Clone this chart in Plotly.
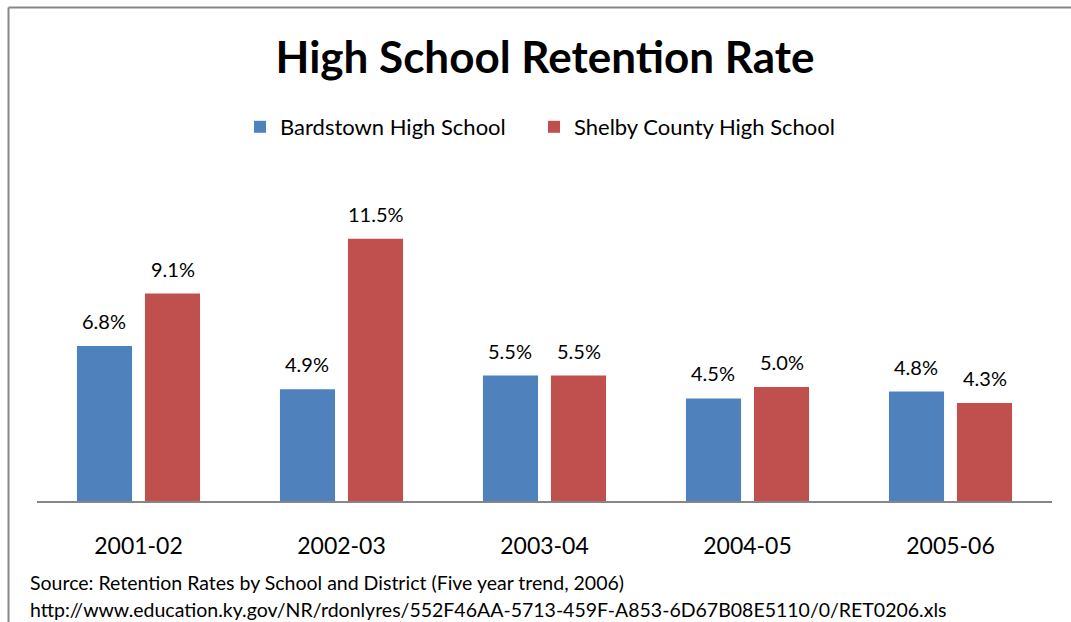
import plotly.graph_objects as go

categories = ["2001-02", "2002-03", "2003-04", "2004-05", "2005-06"]
bardstown = [6.8, 4.9, 5.5, 4.5, 4.8]
shelby = [9.1, 11.5, 5.5, 5.0, 4.3]
series_names = ["Bardstown High School", "Shelby County High School"]
colors = ["#4F81BD", "#C0504D"]
title_text = "High School Retention Rate"
source_lines = [
    "Source: Retention Rates by School and District (Five year trend, 2006)",
    "http://www.education.ky.gov/NR/rdonlyres/552F46AA-5713-459F-A853-6D67B08E5110/0/RET0206.xls",
]

W, H = 1071, 622
ML, MR, MT, MB = 37, 19, 190, 121
FONT = "Lato, Carlito, Calibri, sans-serif"
legend_names = ["legend", "legend2"]
legend_symbol_px = [262, 556]

fig = go.Figure()
for name, vals, col, lg in zip(series_names, [bardstown, shelby], colors, legend_names):
    fig.add_trace(go.Bar(x=categories, y=vals, name=name, marker_color=col,
                         marker_line_width=0, hoverinfo="skip", legend=lg))

ph = H - MT - MB
pw = W - ML - MR
ymax = ph / 22.8
slot_px = pw / len(categories) * (1 - 0.33) / 2

annotations = []
for i, vals in enumerate([bardstown, shelby]):
    shift = (-0.5 if i == 0 else 0.5) * slot_px
    for c, v in zip(categories, vals):
        annotations.append(dict(x=c, y=v, xref="x", yref="y", text=f"{v:.1f}%",
                                showarrow=False, xshift=shift, yanchor="bottom", yshift=11,
                                font=dict(family=FONT, size=20, color="#000")))

def px_to_paper_y(py):
    return 1 + (MT - py) / ph

for line, py in zip(source_lines, [582, 609]):
    annotations.append(dict(x=(28 - ML) / pw, y=px_to_paper_y(py), xref="paper", yref="paper",
                            text=line, showarrow=False, xanchor="left", yanchor="middle",
                            font=dict(family=FONT, size=19.5, color="#000")))

shapes = [
    dict(type="line", xref="paper", yref="paper", x0=(8.5 - ML) / pw, x1=(W + 5 - ML) / pw,
         y0=px_to_paper_y(7.5), y1=px_to_paper_y(7.5), line=dict(color="#878787", width=2)),
    dict(type="line", xref="paper", yref="paper", x0=(8.5 - ML) / pw, x1=(8.5 - ML) / pw,
         y0=px_to_paper_y(7.5), y1=px_to_paper_y(H + 5), line=dict(color="#878787", width=2)),
]

legend_common = dict(orientation="h", xanchor="left", yanchor="middle", xref="paper",
                     y=px_to_paper_y(127), font=dict(family=FONT, size=22, color="#000"),
                     bgcolor="rgba(0,0,0,0)")

fig.update_layout(
    width=W, height=H, autosize=False,
    margin=dict(l=ML, r=MR, t=MT, b=MB, pad=0),
    paper_bgcolor="white", plot_bgcolor="white",
    barmode="group", bargap=0.33, bargroupgap=0.19,
    title=dict(text="<b>" + title_text + "</b>", x=(545 - ML) / pw, xanchor="center", xref="paper",
               y=1 - 58 / H, yanchor="middle", font=dict(family=FONT, size=44, color="#000")),
    legend=dict(x=(legend_symbol_px[0] - 22 - ML) / pw, **legend_common),
    legend2=dict(x=(legend_symbol_px[1] - 22 - ML) / pw, **legend_common),
    xaxis=dict(type="category", showline=True, linecolor="#868686", linewidth=2, ticks="",
               showgrid=False, tickfont=dict(family=FONT, size=23, color="#000"),
               ticklabelstandoff=23, fixedrange=True),
    yaxis=dict(range=[0, ymax], visible=False, showgrid=False, zeroline=False, fixedrange=True),
    annotations=annotations, shapes=shapes, showlegend=True,
)

fig.write_html("out.html", config={"displayModeBar": False},
               post_script="document.body.style.margin='0';document.body.style.overflow='hidden';")
